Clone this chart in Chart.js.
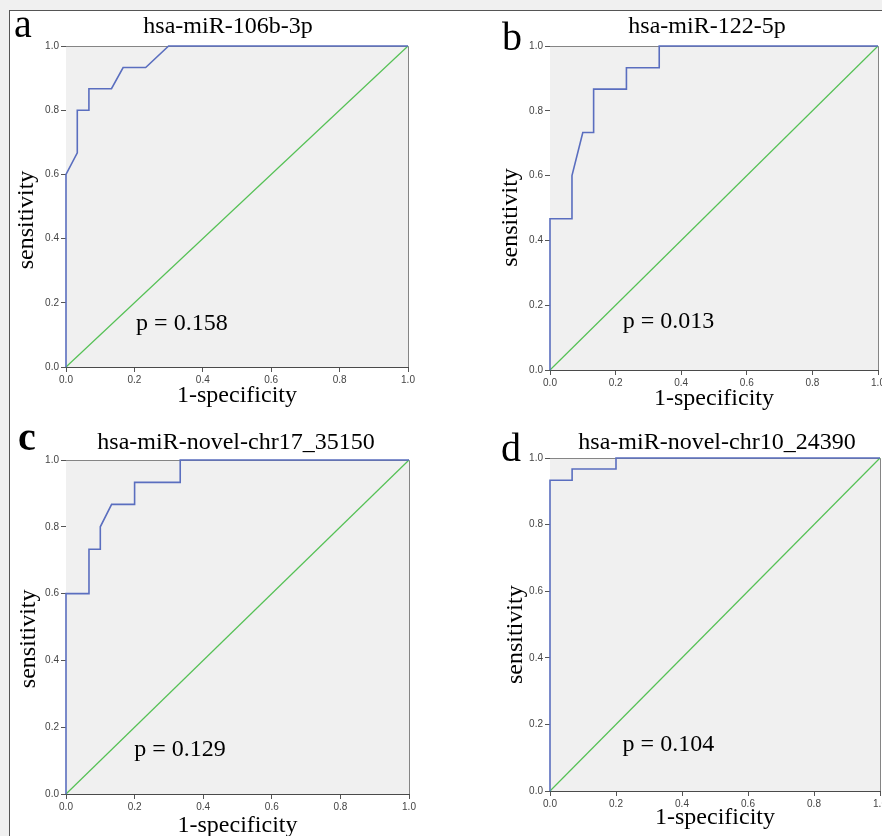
<!DOCTYPE html>
<html>
<head>
<meta charset="utf-8">
<script src="https://cdn.jsdelivr.net/npm/chart.js@4/dist/chart.umd.min.js"></script>
<style>
html,body{margin:0;padding:0;}
body{width:882px;height:836px;overflow:hidden;position:relative;background:#f0f0f0;}
#frame{position:absolute;left:9px;top:10px;width:900px;height:900px;background:#fff;border-left:1px solid #555;border-top:1px solid #555;}
canvas{position:absolute;left:0;top:0;}
</style>
</head>
<body>
<div id="frame"></div>
<canvas id="ca" width="900" height="900" style="width:900px;height:900px"></canvas>
<canvas id="cb" width="900" height="900" style="width:900px;height:900px"></canvas>
<canvas id="cc" width="900" height="900" style="width:900px;height:900px"></canvas>
<canvas id="cd" width="900" height="900" style="width:900px;height:900px"></canvas>
<script>
// ---- data ----
const tickLabels = ['0.0', '0.2', '0.4', '0.6', '0.8', '1.0'];
const letters = ['a', 'b', 'c', 'd'];
const titles = ['hsa-miR-106b-3p', 'hsa-miR-122-5p', 'hsa-miR-novel-chr17_35150', 'hsa-miR-novel-chr10_24390'];
const pValues = ['p = 0.158', 'p = 0.013', 'p = 0.129', 'p = 0.104'];
const xAxisTitle = '1-specificity';
const yAxisTitle = 'sensitivity';

const fprA  = [0, 0, 0.033, 0.033, 0.067, 0.067, 0.133, 0.167, 0.233, 0.3, 1];
const sensA = [0, 0.6, 0.667, 0.8, 0.8, 0.867, 0.867, 0.933, 0.933, 1, 1];
const fprB  = [0, 0, 0.067, 0.067, 0.1, 0.133, 0.133, 0.233, 0.233, 0.333, 0.333, 1];
const sensB = [0, 0.467, 0.467, 0.6, 0.733, 0.733, 0.867, 0.867, 0.933, 0.933, 1, 1];
const fprC  = [0, 0, 0.067, 0.067, 0.1, 0.1, 0.133, 0.2, 0.2, 0.333, 0.333, 1];
const sensC = [0, 0.6, 0.6, 0.733, 0.733, 0.8, 0.867, 0.867, 0.933, 0.933, 1, 1];
const fprD  = [0, 0, 0.067, 0.067, 0.2, 0.2, 1];
const sensD = [0, 0.933, 0.933, 0.967, 0.967, 1, 1];
const refX = [0, 1];
const refY = [0, 1];

// ---- layout (page pixels) ----
const CW = 900, CH = 900;
const panels = [
  {canvas:'ca', fpr:fprA, sens:sensA, area:{L:66, R:408, T:46, B:367}, xBase:404,
   letterPos:[14, 37.3], bold:false, titlePos:[228, 32.5], pPos:[0.205, 0.115], yTitlePos:[33, 220]},
  {canvas:'cb', fpr:fprB, sens:sensB, area:{L:550, R:878, T:46, B:370}, xBase:406.7,
   letterPos:[502, 50], bold:false, titlePos:[707, 33], pPos:[0.222, 0.13], yTitlePos:[517, 217.5]},
  {canvas:'cc', fpr:fprC, sens:sensC, area:{L:66, R:409, T:460, B:794}, xBase:834,
   letterPos:[18, 449.7], bold:true, titlePos:[236, 448.7], pPos:[0.199, 0.115], yTitlePos:[34.5, 638.8]},
  {canvas:'cd', fpr:fprD, sens:sensD, area:{L:550, R:880, T:458, B:791}, xBase:826,
   letterPos:[501, 461.3], bold:false, titlePos:[717, 448.7], pPos:[0.22, 0.119], yTitlePos:[522, 634.7]}
];

const SERIF = '"Liberation Serif", "Times New Roman", serif';
const SANS = '"Liberation Sans", Arial, sans-serif';
const Y_W = 30;

const panelPlugin = {
  id: 'panelDeco',
  beforeDatasetsDraw(chart) {
    const {ctx, chartArea: a} = chart;
    ctx.save();
    ctx.fillStyle = '#f0f0f0';
    ctx.fillRect(a.left, a.top, a.right - a.left, a.bottom - a.top);
    ctx.strokeStyle = '#858585';
    ctx.lineWidth = 1;
    ctx.beginPath();
    ctx.moveTo(a.left, a.top + 0.5);
    ctx.lineTo(a.right + 0.5, a.top + 0.5);
    ctx.lineTo(a.right + 0.5, a.bottom);
    ctx.stroke();
    ctx.restore();
  },
  afterDraw(chart, args, o) {
    const ctx = chart.ctx;
    ctx.save();
    ctx.fillStyle = '#000';
    ctx.textBaseline = 'alphabetic';
    ctx.textAlign = 'left';
    ctx.font = (o.bold ? 'bold ' : '') + '40px ' + SERIF;
    ctx.fillText(o.letter, o.letterPos[0], o.letterPos[1]);
    ctx.font = '24px ' + SERIF;
    ctx.textAlign = 'center';
    ctx.fillText(o.title, o.titlePos[0], o.titlePos[1]);
    ctx.textAlign = 'left';
    const px = chart.scales.x.getPixelForValue(o.pPos[0]);
    const py = chart.scales.y.getPixelForValue(o.pPos[1]);
    ctx.fillText(o.p, px, py);
    ctx.translate(o.yTitlePos[0], o.yTitlePos[1]);
    ctx.rotate(-Math.PI / 2);
    ctx.textAlign = 'center';
    ctx.fillText(o.ytitle, 0, 0);
    ctx.restore();
  }
};

panels.forEach((pn, i) => {
  const a = pn.area;
  const hx = pn.xBase + 8.3 - a.B;
  const roc = pn.fpr.map((x, k) => ({x: x, y: pn.sens[k]}));
  const ref = refX.map((x, k) => ({x: x, y: refY[k]}));
  new Chart(document.getElementById(pn.canvas), {
    type: 'scatter',
    data: {
      datasets: [
        {label: 'reference', data: ref, showLine: true, borderColor: '#55c155', borderWidth: 1.2,
         pointRadius: 0, pointHoverRadius: 0, clip: false, order: 2},
        {label: titles[i], data: roc, showLine: true, borderColor: '#5a6ebf', borderWidth: 1.6,
         pointRadius: 0, pointHoverRadius: 0, clip: false, order: 1}
      ]
    },
    options: {
      responsive: false,
      animation: false,
      devicePixelRatio: 1,
      events: [],
      layout: {padding: {left: a.L - Y_W, top: a.T, right: CW - a.R, bottom: CH - a.B - hx}},
      plugins: {
        legend: {display: false},
        title: {display: false},
        tooltip: {enabled: false},
        panelDeco: {letter: letters[i], bold: pn.bold, letterPos: pn.letterPos,
                    title: titles[i], titlePos: pn.titlePos, p: pValues[i], pPos: pn.pPos,
                    ytitle: yAxisTitle, yTitlePos: pn.yTitlePos}
      },
      scales: {
        x: {
          type: 'linear', min: 0, max: 1,
          afterFit(s) { s.height = hx; },
          ticks: {stepSize: 0.2, maxRotation: 0, autoSkip: false, padding: 2,
                  font: {family: SANS, size: 10}, color: '#444',
                  callback: (v, k) => tickLabels[k]},
          grid: {display: true, drawOnChartArea: false, drawTicks: true, tickLength: 5, tickColor: '#555'},
          border: {display: true, color: '#4a4a4a', width: 1},
          title: {display: true, text: xAxisTitle, color: '#000',
                  font: {family: SERIF, size: 24, lineHeight: 1.2}, padding: {top: 0, bottom: 2}}
        },
        y: {
          type: 'linear', min: 0, max: 1,
          afterFit(s) { s.width = Y_W; },
          ticks: {stepSize: 0.2, padding: 2, font: {family: SANS, size: 10}, color: '#444',
                  callback: (v, k) => tickLabels[k]},
          grid: {display: true, drawOnChartArea: false, drawTicks: true, tickLength: 5, tickColor: '#555'},
          border: {display: true, color: '#3d4460', width: 1},
          title: {display: false}
        }
      }
    },
    plugins: [panelPlugin]
  });
});
</script>
</body>
</html>
